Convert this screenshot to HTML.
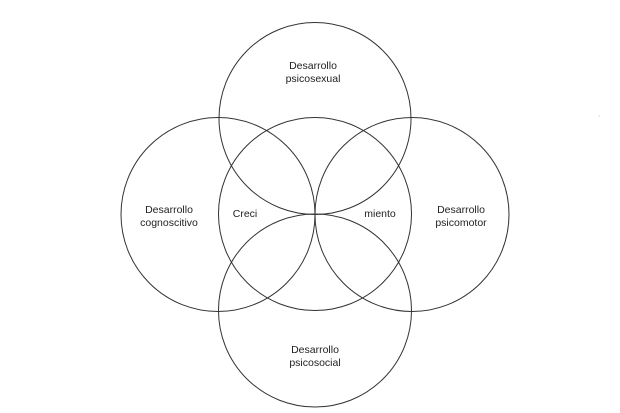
<!DOCTYPE html>
<html><head><meta charset="utf-8"><style>
html,body{margin:0;padding:0;background:#fff;}
svg{display:block;}
text{font-family:"Liberation Sans",sans-serif;font-size:10.5px;fill:#222;text-anchor:middle;}
</style></head><body>
<svg width="620" height="413" viewBox="0 0 620 413">
<g fill="none" stroke="#333" stroke-width="1">
<circle cx="315" cy="118.5" r="96"/>
<circle cx="218" cy="214.5" r="97"/>
<circle cx="412" cy="214.5" r="97"/>
<circle cx="315" cy="214" r="96.5"/>
<circle cx="315" cy="310.5" r="96.5"/>
</g>
<text x="313" y="69">Desarrollo</text>
<text x="313" y="82">psicosexual</text>
<text x="169" y="213">Desarrollo</text>
<text x="169" y="226">cognoscitivo</text>
<text x="245" y="217">Creci</text>
<text x="380" y="217">miento</text>
<text x="461" y="213">Desarrollo</text>
<text x="461" y="226">psicomotor</text>
<text x="315" y="353">Desarrollo</text>
<text x="315" y="366">psicosocial</text>
<circle cx="599" cy="116" r="0.6" fill="#bbb"/>
</svg>
</body></html>
